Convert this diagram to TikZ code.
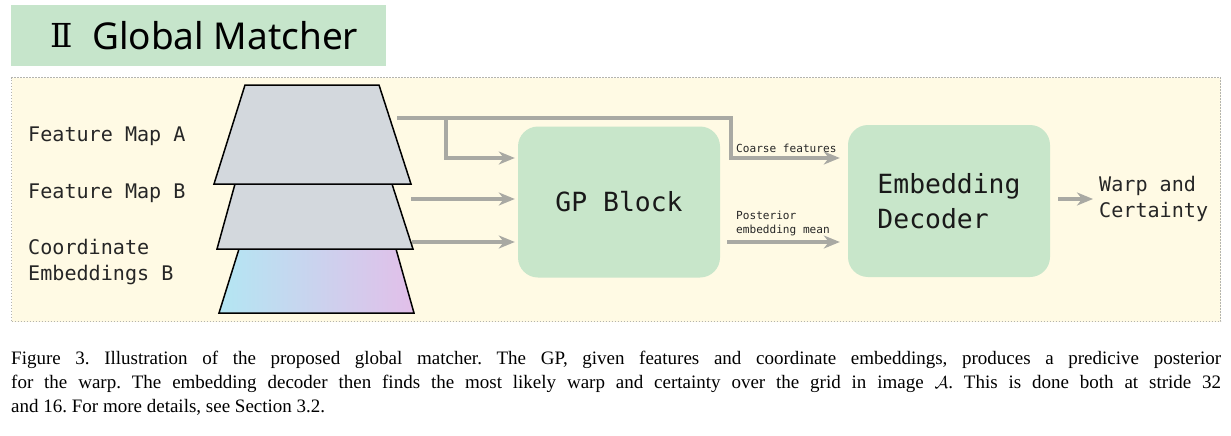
\documentclass[tikz,border=0pt]{standalone}
\usepackage{fontspec}
\setmainfont{Liberation Serif}
\setsansfont{Noto Sans}
\setmonofont{DejaVu Sans Mono}
\newfontfamily\numfont{DejaVu Serif}
\usetikzlibrary{arrows.meta}
\definecolor{titlegreen}{HTML}{C6E5CB}
\definecolor{boxgreen}{HTML}{C8E6CA}
\definecolor{bgyellow}{HTML}{FFFAE4}
\definecolor{framegray}{HTML}{B4B4AE}
\definecolor{trapgray}{HTML}{D3D8DD}
\definecolor{arrgray}{HTML}{A9A9A3}
\definecolor{embcyan}{HTML}{B3E6F3}
\definecolor{embpurple}{HTML}{E2BFE9}
\begin{document}
\begin{tikzpicture}[x=1pt,y=-1pt,
  blockbox/.style={fill=boxgreen, rounded corners=20pt, inner sep=0pt},
  trap/.style={draw=black, line width=1.5pt, line join=miter},
  arr/.style={draw=arrgray, line width=4pt, line cap=butt, line join=miter,
    -{Stealth[length=16pt,width=13pt,inset=5pt]}},
  lbl/.style={font=\ttfamily\fontsize{20.1}{26}\selectfont, inner sep=0pt, text=black!85},
  smalllbl/.style={font=\ttfamily\fontsize{11.1}{13.5}\selectfont, inner sep=0pt, text=black!85},
  biglbl/.style={font=\ttfamily\fontsize{26.4}{35}\selectfont, text=black!90}]
\useasboundingbox (0,0) rectangle (1231,436);
\fill[white] (0,0) rectangle (1231,436);

% title
\node[fill=titlegreen, minimum width=375pt, minimum height=61pt, anchor=north west, inner sep=0pt] (title) at (11,5) {};
\node[anchor=base west, inner sep=0pt, font=\numfont\fontsize{33}{40}\selectfont] (roman) at (50,48) {Ⅱ};
\node[anchor=base west, inner sep=0pt, font=\sffamily\fontsize{37}{44}\selectfont] (titletext) at (92,50) {Global Matcher};

% frame
\node[draw=framegray, fill=bgyellow, line width=1.3pt, dash pattern=on 1.3pt off 1.7pt,
  minimum width=1209pt, minimum height=244pt, anchor=north west, inner sep=0pt] (frame) at (11,77) {};

% trapezoids
\shade[left color=embcyan, right color=embpurple] (239,249) -- (396,249) -- (414,313) -- (219,313) -- cycle;
\draw[trap] (239,249) -- (396,249) -- (414,313) -- (219,313) -- cycle;
\draw[trap, fill=trapgray] (235,184) -- (392,184) -- (413,249) -- (217,249) -- cycle;
\draw[trap, fill=trapgray] (245,85) -- (379,85) -- (411,184) -- (214,184) -- cycle;

% labels left
\node[lbl, anchor=base west] (fma) at (28,141) {Feature Map A};
\node[lbl, anchor=base west] (fmb) at (28,198) {Feature Map B};
\node[lbl, anchor=north west, align=left] (ceb) at (28,239) {Coordinate\\Embeddings B};

% blocks
\node[blockbox, minimum width=202pt, minimum height=151pt] (gp) at (619,202) {};
\node[biglbl] (gptext) at (gp.center) {GP Block};
\node[blockbox, minimum width=202pt, minimum height=152pt] (ed) at (949,201) {};
\node[biglbl, align=left, inner sep=0pt] (edtext) at (ed.center) {Embedding\\Decoder};
\node[lbl, anchor=west, align=left] (warp) at (1099,199) {Warp and\\Certainty};

% coordinates
\coordinate (aout) at (397,118);
\coordinate (bout) at (411,199);
\coordinate (cout) at (412,242);
\coordinate (splitl) at (446,118);
\coordinate (splitr) at (731,118);
\coordinate (ya) at (0,158);

% arrows
\draw[arr, shorten >=8pt] (aout) -- (splitr) |- (ed.west |- ya);
\draw[arr, shorten >=3pt] (splitl) |- (gp.west |- ya);
\draw[arr, shorten >=3pt] (bout) -- (gp.west |- bout);
\draw[arr, shorten >=3pt] (cout) -- (gp.west |- cout);
\draw[arr, shorten <=7pt, shorten >=8pt] (gp.east |- cout) -- (ed.west |- cout);
\draw[arr, shorten <=8pt, shorten >=6pt] (ed.east |- warp.west) -- (warp.west);

% arrow labels
\node[smalllbl, anchor=base west] (coarse) at (736,152) {Coarse features};
\node[smalllbl, anchor=north west, align=left] (post) at (736,211) {Posterior\\embedding mean};

% caption
\node[anchor=north west, inner sep=0pt, text width=1210pt, align=justify,
  font=\rmfamily\fontsize{19}{24.2}\selectfont] (caption) at (11,351)
  {\frenchspacing\hyphenpenalty=10000 Figure 3. Illustration of the proposed global matcher. The GP, given features and coordinate embeddings, produces a predicive posterior\linebreak
  for the warp. The embedding decoder then finds the most likely warp and certainty over the grid in image $\mathcal{A}$. This is done both at stride 32\linebreak
  and 16. For more details, see Section 3.2.};
\end{tikzpicture}
\end{document}
